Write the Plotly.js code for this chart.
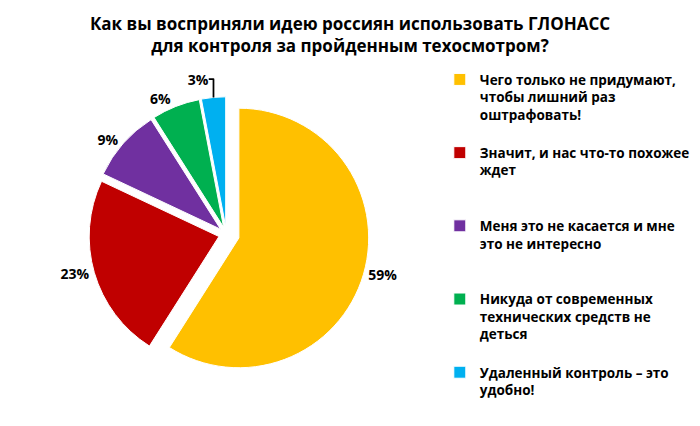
<!DOCTYPE html>
<html>
<head>
<meta charset="utf-8">
<script src="https://cdn.plot.ly/plotly-3.0.1.min.js"></script>
<style>
  html, body { margin: 0; padding: 0; background: #fff; }
  #chart { width: 700px; height: 426px; }
</style>
</head>
<body>
<div id="chart"></div>
<script>
const answers = [
  'Чего только не придумают,<br>чтобы лишний раз<br>оштрафовать!<br> ',
  'Значит, и нас что-то похожее<br>ждет<br> <br> ',
  'Меня это не касается и мне<br>это не интересно<br> <br> ',
  'Никуда от современных<br>технических средств не<br>деться<br> ',
  'Удаленный контроль – это<br>удобно!'
];
const shares = [59, 23, 9, 6, 3];
const sliceColors = ['#FFC000', '#C00000', '#7030A0', '#00B050', '#00B0F0'];
const pulls = [0.1, 0.06, 0.06, 0.06, 0.06];

const pie = {
  type: 'pie',
  labels: answers,
  values: shares,
  sort: false,
  direction: 'clockwise',
  rotation: 0,
  pull: pulls,
  marker: { colors: sliceColors, line: { color: '#ffffff', width: 1 } },
  textposition: 'outside',
  texttemplate: '%{value}%',
  textfont: { family: 'Open Sans, sans-serif', size: 14, color: '#000', weight: 'bold' },
  hoverinfo: 'label+percent',
  domain: { x: [0.06, 0.6], y: [0.12, 0.9] },
  automargin: false
};

const layout = {
  width: 700,
  height: 426,
  paper_bgcolor: '#ffffff',
  margin: { l: 5, r: 5, t: 55, b: 5 },
  title: {
    text: 'Как вы восприняли идею россиян использовать ГЛОНАСС<br>для контроля за пройденным техосмотром?',
    font: { family: 'Open Sans, sans-serif', size: 17, color: '#000', weight: 'bold' },
    x: 0.5,
    xanchor: 'center',
    y: 0.93,
    yanchor: 'middle'
  },
  showlegend: true,
  legend: {
    x: 0.648,
    xanchor: 'left',
    y: 0.975,
    yanchor: 'top',
    valign: 'top',
    font: { family: 'Open Sans, sans-serif', size: 13.5, color: '#000', weight: 'bold' },
    itemwidth: 30,
    traceorder: 'normal'
  }
};

Plotly.newPlot('chart', [pie], layout, { displayModeBar: false, staticPlot: true });
</script>
</body>
</html>
